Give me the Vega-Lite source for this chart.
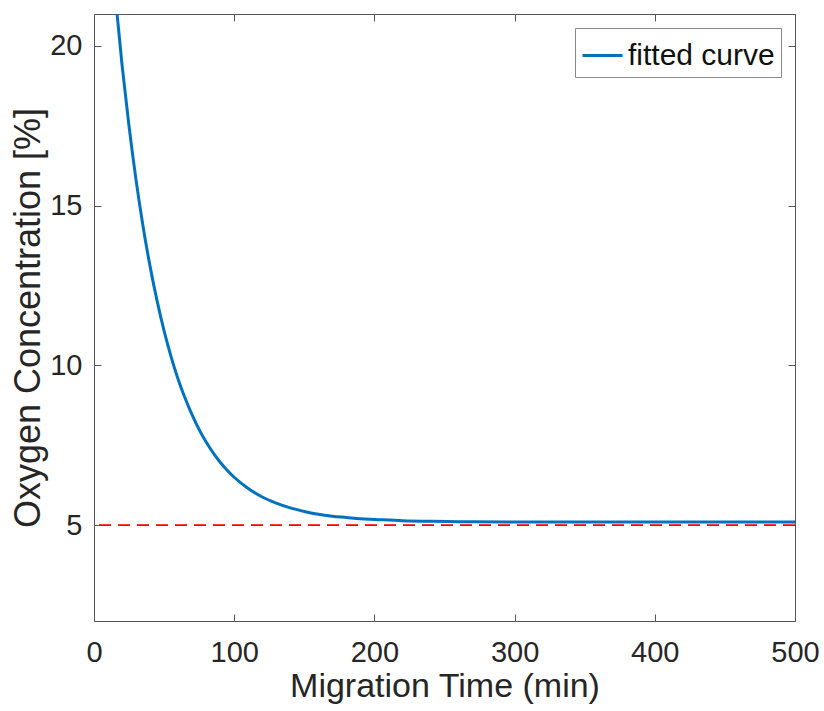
{
  "$schema": "https://vega.github.io/schema/vega-lite/v6.json",
  "width": 701,
  "height": 607,
  "autosize": "none",
  "padding": {"left": 94, "top": 14, "right": 29, "bottom": 90},
  "background": "white",
  "config": {
    "font": "Liberation Sans",
    "view": {"stroke": "#555555", "strokeWidth": 1},
    "axis": {
      "grid": false,
      "domainColor": "#555555",
      "tickColor": "#555555",
      "tickSize": -7,
      "labelFlush": false,
      "labelFont": "Liberation Sans",
      "labelColor": "#262626",
      "labelFontSize": 29,
      "titleFont": "Liberation Sans",
      "titleColor": "#262626",
      "titleFontSize": 34,
      "titleFontWeight": "normal"
    }
  },
  "datasets": {
    "curve": [
      {"t": 0, "o2": 30.70}, {"t": 5, "o2": 27.24}, {"t": 10, "o2": 24.24}, {"t": 15, "o2": 21.65},
      {"t": 20, "o2": 19.41}, {"t": 25, "o2": 17.48}, {"t": 30, "o2": 15.80}, {"t": 35, "o2": 14.35},
      {"t": 40, "o2": 13.10}, {"t": 45, "o2": 12.02}, {"t": 50, "o2": 11.08}, {"t": 55, "o2": 10.27},
      {"t": 60, "o2": 9.57}, {"t": 65, "o2": 8.97}, {"t": 70, "o2": 8.45}, {"t": 75, "o2": 7.99},
      {"t": 80, "o2": 7.60}, {"t": 85, "o2": 7.26}, {"t": 90, "o2": 6.97}, {"t": 95, "o2": 6.72},
      {"t": 100, "o2": 6.50}, {"t": 110, "o2": 6.15}, {"t": 120, "o2": 5.88}, {"t": 130, "o2": 5.69},
      {"t": 140, "o2": 5.54}, {"t": 150, "o2": 5.43}, {"t": 160, "o2": 5.34}, {"t": 170, "o2": 5.28},
      {"t": 180, "o2": 5.24}, {"t": 190, "o2": 5.20}, {"t": 200, "o2": 5.18}, {"t": 220, "o2": 5.14},
      {"t": 240, "o2": 5.12}, {"t": 260, "o2": 5.11}, {"t": 300, "o2": 5.10}, {"t": 400, "o2": 5.10},
      {"t": 500, "o2": 5.10}
    ]
  },
  "layer": [
    {
      "data": {"name": "curve"},
      "mark": {"type": "line", "opacity": 0},
      "encoding": {
        "x": {"field": "t", "type": "quantitative", "scale": {"domain": [0, 500], "nice": false},
              "axis": {"orient": "top", "labels": false, "title": null, "domain": false, "values": [0, 100, 200, 300, 400, 500]}},
        "y": {"field": "o2", "type": "quantitative", "scale": {"domain": [2, 21], "nice": false, "zero": false},
              "axis": {"orient": "right", "labels": false, "title": null, "domain": false, "values": [5, 10, 15, 20]}}
      }
    },
    {
      "layer": [
        {
          "data": {"values": [{"ref": 5}]},
          "mark": {"type": "rule", "color": "#FF0000", "strokeWidth": 1.6, "strokeDash": [12, 7]},
          "encoding": {"y": {"field": "ref", "type": "quantitative"}}
        },
        {
          "data": {"name": "curve"},
          "mark": {"type": "line", "strokeWidth": 3, "clip": true, "interpolate": "monotone"},
          "encoding": {
            "x": {"field": "t", "type": "quantitative", "scale": {"domain": [0, 500], "nice": false},
                  "axis": {"title": "Migration Time (min)", "values": [0, 100, 200, 300, 400, 500], "labelPadding": 24, "titlePadding": 2}},
            "y": {"field": "o2", "type": "quantitative", "scale": {"domain": [2, 21], "nice": false, "zero": false},
                  "axis": {"title": "Oxygen Concentration [%]", "values": [5, 10, 15, 20], "labelPadding": 19, "titlePadding": 2, "titleFontSize": 36}},
            "color": {"datum": "fitted curve", "type": "nominal",
                      "scale": {"range": ["#0072BD"]},
                      "legend": {"title": null, "orient": "top-right", "offset": 14, "symbolType": "stroke",
                                 "symbolSize": 1600, "symbolStrokeWidth": 3, "labelFontSize": 30, "labelFont": "Liberation Sans",
                                 "labelColor": "#111111", "strokeColor": "#888888", "fillColor": "white", "padding": 6,
                                 "labelOffset": 4}}
          }
        }
      ]
    }
  ],
  "resolve": {"scale": {"x": "independent", "y": "independent"}, "axis": {"x": "independent", "y": "independent"}}
}
